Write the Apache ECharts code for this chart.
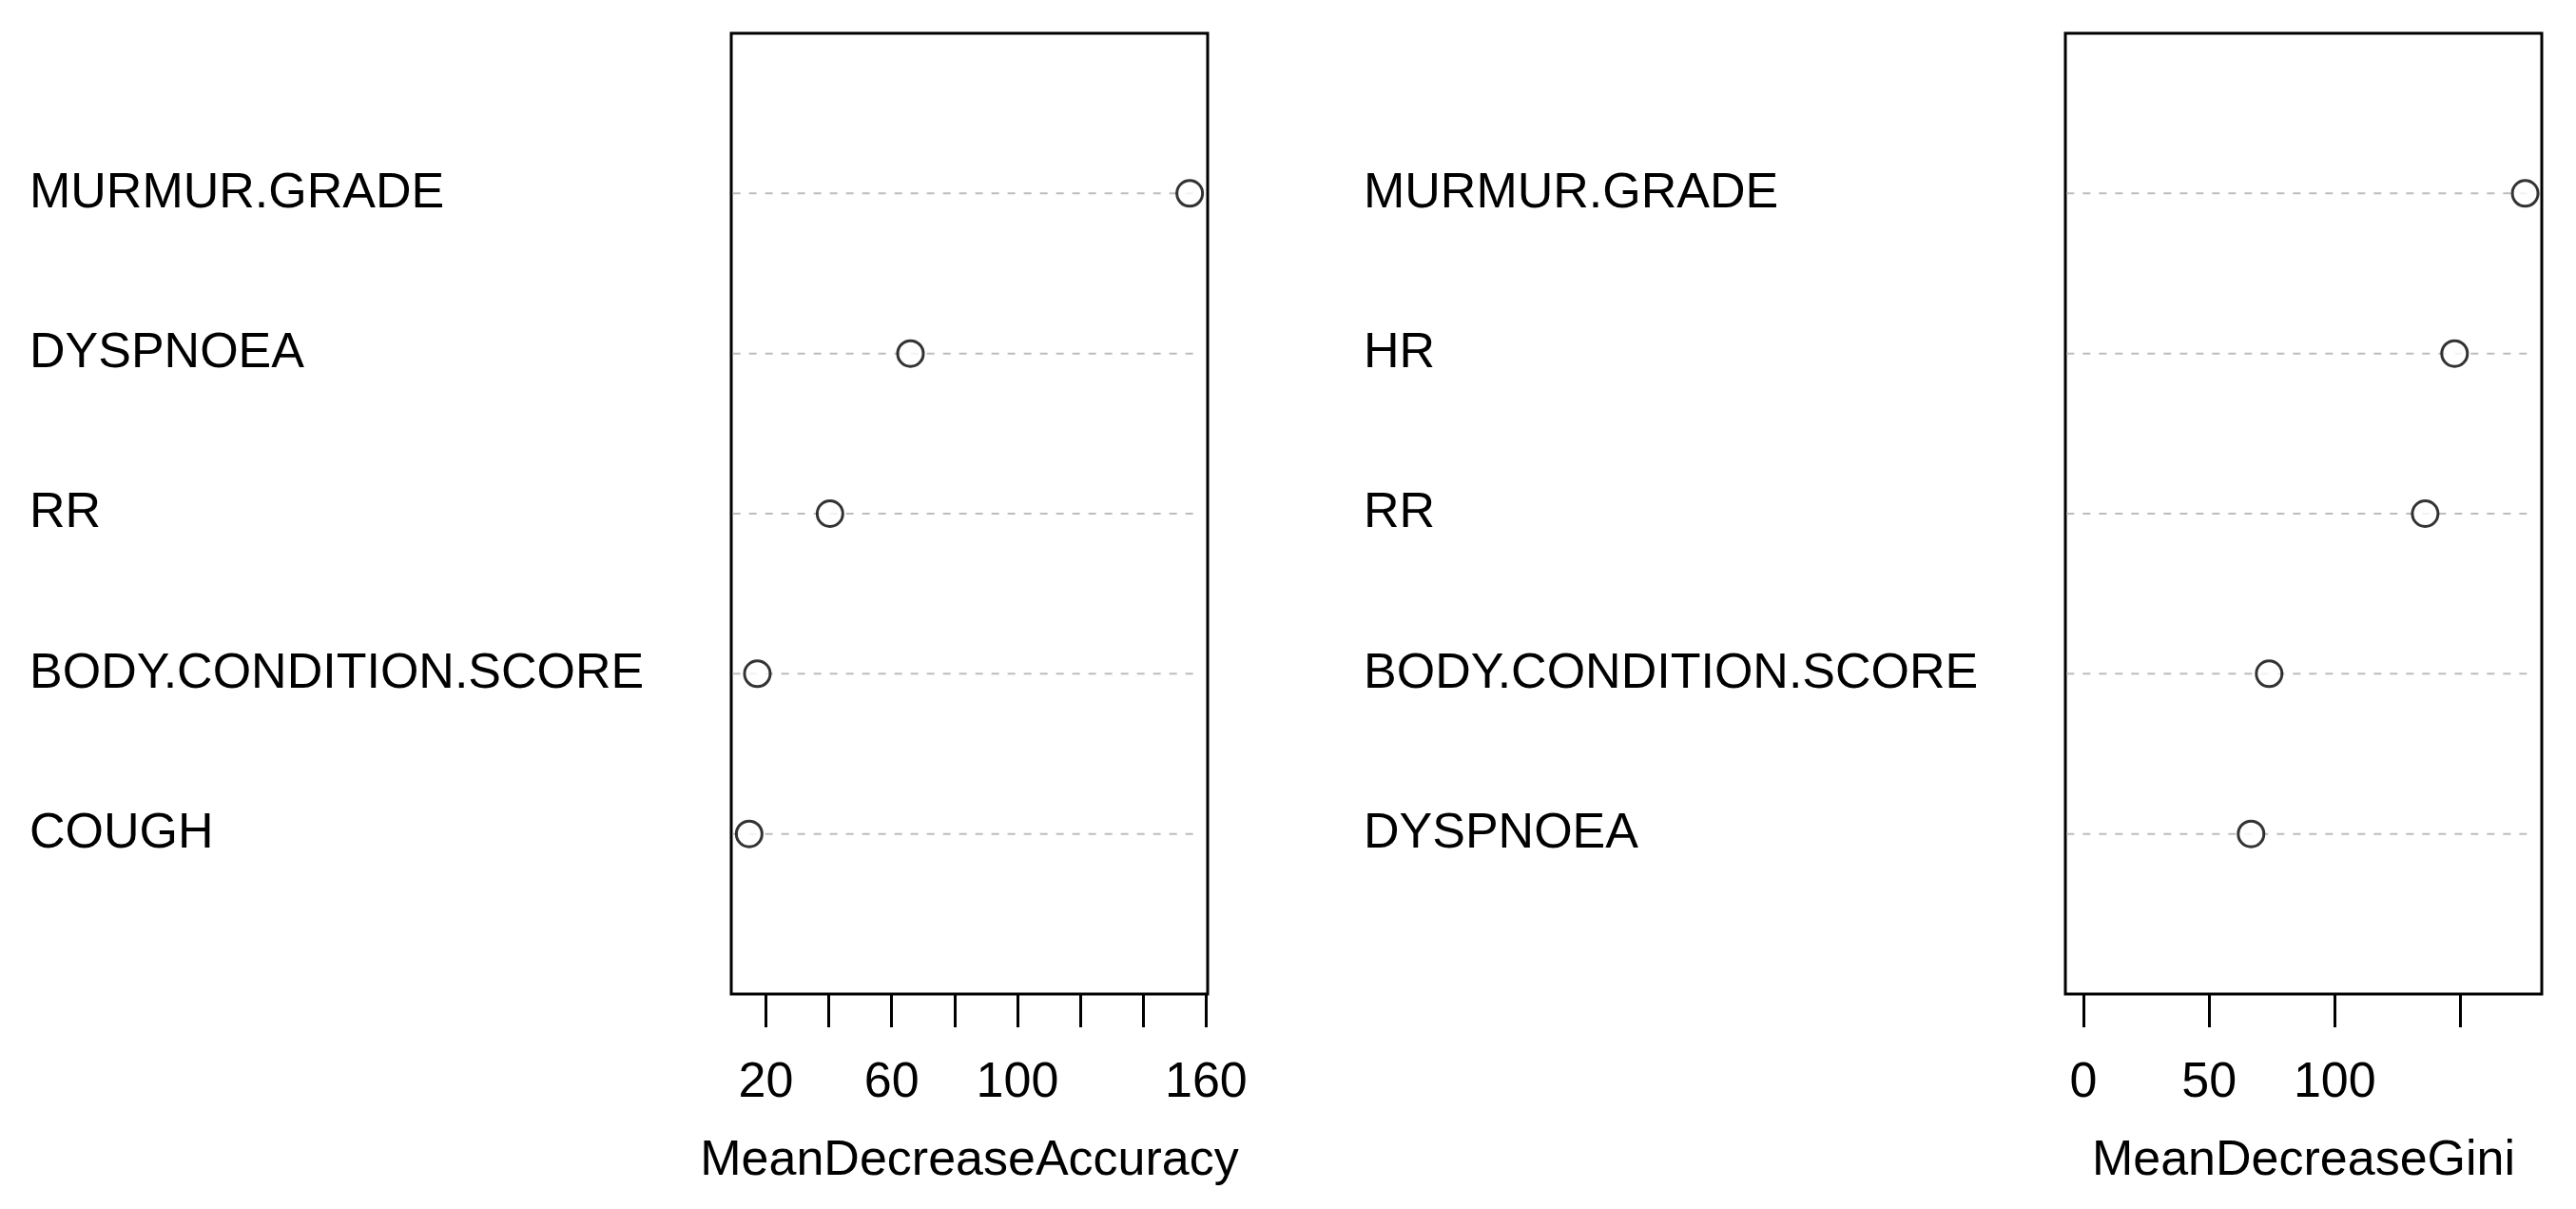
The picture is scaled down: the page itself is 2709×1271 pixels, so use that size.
<!DOCTYPE html>
<html><head><meta charset="utf-8">
<script src="https://cdn.jsdelivr.net/npm/echarts@6/dist/echarts.min.js"></script>
<style>html,body{margin:0;padding:0;background:#fff}#c{width:2709px;height:1271px}</style>
</head><body><div id="c"></div>
<script>
const accNames = ['COUGH','BODY.CONDITION.SCORE','RR','DYSPNOEA','MURMUR.GRADE'];
const accValues = [14.7, 17.3, 40.4, 66, 154.8];
const giniNames = ['DYSPNOEA','BODY.CONDITION.SCORE','RR','HR','MURMUR.GRADE'];
const giniValues = [66.7, 73.9, 136, 147.7, 175.8];
const accTicks = [20,40,60,80,100,120,140,160];
const accTickLabels = [20,60,100,160];
const giniTicks = [0,50,100,150];
const giniTickLabels = [0,50,100];

const font = 'Liberation Sans, Arial, sans-serif';
const fs = 52;
const ranges = [[9,160.5],[-7.2,182.4]];
const panels = [
  {names:accNames, values:accValues, ticks:accTicks, labels:accTickLabels, name:'MeanDecreaseAccuracy', left:769},
  {names:giniNames, values:giniValues, ticks:giniTicks, labels:giniTickLabels, name:'MeanDecreaseGini', left:2172}
];
const grid=[], xAxis=[], yAxis=[], series=[];
panels.forEach((p,i)=>{
  const [mn,mx]=ranges[i];
  grid.push({left:p.left, width:501, top:35, bottom:226, show:true, borderColor:'#000', borderWidth:3, backgroundColor:'transparent'});
  xAxis.push({type:'value', gridIndex:i, min:mn, max:mx,
    name:p.name, nameLocation:'middle', nameGap:150, nameTextStyle:{fontSize:fs, fontFamily:font, color:'#000'},
    axisLine:{show:false}, splitLine:{show:false},
    axisTick:{show:true, inside:false, length:35, lineStyle:{color:'#000', width:3}, customValues:p.ticks},
    axisLabel:{show:true, margin:68, fontSize:fs, fontFamily:font, color:'#000', customValues:p.labels}});
  yAxis.push({type:'value', gridIndex:i, min:0, max:6, interval:1,
    axisLine:{show:false}, axisTick:{show:false}, splitLine:{show:false},
    axisLabel:{show:true, align:'left', margin:738, fontSize:fs, fontFamily:font, color:'#000',
      formatter:v=> (v>=1 && v<=5) ? p.names[v-1] : ''}});
  p.names.forEach((n,k)=>{
    series.push({type:'line', xAxisIndex:i, yAxisIndex:i, symbol:'none', silent:true, z:1,
      lineStyle:{color:'#bdbdbd', width:2, type:[8,9]},
      data:[[mn+0.5,k+1],[mx-(mx-mn)*0.015,k+1]]});
  });
  series.push({type:'scatter', xAxisIndex:i, yAxisIndex:i, symbol:'circle', symbolSize:27, z:5,
    itemStyle:{color:'#fff', borderColor:'#000', borderWidth:3},
    data:p.values.map((v,k)=>[v,k+1])});
});
const chart=echarts.init(document.getElementById('c'));
chart.setOption({animation:false, backgroundColor:'#fff', grid, xAxis, yAxis, series});
</script></body></html>
